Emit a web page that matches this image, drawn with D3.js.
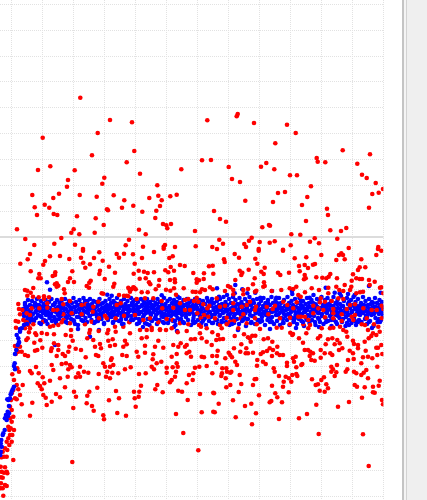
<!DOCTYPE html>
<html><head><meta charset="utf-8">
<script src="https://cdn.jsdelivr.net/npm/d3@7/dist/d3.min.js"></script>
<style>html,body{margin:0;padding:0;background:#fff;overflow:hidden}svg{display:block}</style>
</head><body><div id="chart"></div>
<script>
const xTicks=[10.7,41.7,72.7,103.7,134.7,165.7,196.7,227.7,259,290,321,352,383];
const yTicks=[233,207.3,181.3,155.7,129.7,103.7,77.7,51.7,26,-25.7,-51.7,-77.7,-103.3,-129.3,-155.3,-181.3,-207,-233,-258.7];
const referenceLevel=[0];
const redUpperLeft=[[80.3,139.3],[110,117],[132,114.7],[207.3,116.7],[97.7,104],[42.7,99.3],[134.3,86],[92,81.7],[202,76.7],[211,77],[126.7,74.7],[50.3,70.7],[38,67],[74.7,66.7],[181.3,67.7],[140,63.3],[104.3,59.3],[68,57],[102.3,53.3],[157.3,51.7],[67,50.3],[59,43.3],[32.3,42],[79.7,42],[96.7,40.3],[113.7,41.7],[158.3,41.3],[176.7,42.3],[170.3,40.7],[53.3,39],[149.3,39],[124.3,36.7],[161.7,36.7],[44.7,32.3],[133.3,31.3],[160,31],[34.7,29.7],[49.3,29.3],[122,29.3],[107,27.7],[108,26.7],[156.3,26.3],[142.3,25.3],[214,26],[37,22],[53.7,23],[57.3,22],[77,20.7],[95.7,18.7],[155.3,19],[163,13],[166.3,11.7],[171,13],[103.7,12],[167.3,8.7],[17,7.7],[73.7,7.7],[139,7.3],[195,6],[71.3,4.3],[94.7,4.3],[79.3,2.7],[145.7,2.7],[25.3,-2],[61.3,-1],[129,-2.7],[34.3,-8],[54.3,-6.7],[75,-7.7],[125.7,-8.3],[143,-9.7],[163.7,-9.7],[165,-8],[175,-10],[195.7,-9.3],[212.3,-10],[83,-12],[163.7,-11.7]];
const redUpperRight=[[237.7,123],[236.7,120.7],[254,114],[287,112.3],[295.7,104],[275.3,93.7],[342.7,86.7],[370,82.7],[316.7,79],[317.7,75.3],[325.3,74.7],[357.3,73.3],[266.3,74],[261,70.3],[228.7,70],[274.3,67.7],[362,62.3],[290,61.7],[297,61.7],[366.7,59],[232,58],[240,55],[375.7,54],[311,50.7],[383,48],[285,45],[278,44],[372.3,43],[378.7,44.3],[307.3,40],[245.3,36.3],[273,35],[302,32],[369,29.3],[327,28.3],[328,22],[220,18],[226,15.3],[306,16],[269,12],[270,11.3],[262.3,9.7],[346.3,9],[330.3,6.7],[341,6],[291.3,2.7],[300.3,2.3],[251.7,-0.7],[219.3,-2.7],[249,-3.7],[314.7,-1.3],[337.3,-1.7],[310,-4.7],[223,-6.7],[244.3,-7],[259.7,-5],[269.7,-5.7],[274.7,-4.3],[319,-6.3],[290.7,-8.3],[246,-10],[258.7,-12],[283,-12.7],[348.7,-11],[378.3,-10],[378,-12],[217,-12]];
const redMidLeft=[[30,-17],[20.3,-26.7],[27.7,-22.3],[50,-19.3],[45,-24],[43.3,-27.7],[60,-19],[69.3,-22],[81,-20.7],[83.3,-25.7],[90,-27.3],[85.3,-30.7],[83,-13.7],[99.3,-15.3],[94,-21],[102.7,-23.7],[109,-29.7],[116.7,-17],[124,-16.7],[119,-20.7],[133,-17.3],[142,-21],[134.7,-26.7],[154,-15],[172.7,-19.3],[169.3,-21],[170.7,-30],[180,-28],[184.7,-29],[174,-33.7],[209,-29.3],[212.7,-28.7],[30.7,-34.3],[39.3,-37],[38.3,-41.3],[40.7,-41.3],[55.3,-35.3],[55,-38],[52.7,-39],[72.3,-34.3],[70,-41.3],[68,-45],[74,-45],[100,-33.7],[99.3,-37],[115,-35.7],[133.7,-36.7],[138.7,-33.7],[144,-34.7],[147.7,-36],[154,-35.3],[139.7,-41.7],[165.3,-33.3],[168.3,-35.3],[193.3,-36],[204,-36.3],[213.3,-36.7],[90.7,-43.7],[89.3,-45.7],[104.7,-42],[114.3,-46.7],[113.3,-49.7],[145.7,-41.3],[149,-45.3],[150.3,-47.3],[159.3,-43],[170,-43],[174.7,-42.3],[175,-45.3],[196.7,-42.3],[199,-43.3],[196.7,-45.7],[203.7,-42],[56.7,-46.3],[58.3,-48.7],[55,-47.3],[86.7,-49],[89,-50.7],[64,-52.3],[64.7,-56.3],[25,-53],[27.3,-53.7],[33.3,-51],[30.7,-55.7],[27.3,-58.7],[33,-59.7],[38.7,-60.3],[44,-59.3],[103.3,-56.7],[119,-58],[129.3,-52],[133.3,-50.3],[135.7,-52.3],[128.3,-59.3],[124,-58.7],[141.7,-55.3],[147.7,-55.3],[155.7,-52.3],[158.7,-48.7],[166,-52.7],[170.3,-53.7],[174,-51.3],[183.7,-51.3],[192.7,-54.7],[195.7,-55],[200,-55.3],[202,-52.3],[210,-50.3],[212.7,-52.3],[176,-57.7],[196.7,-60.7]];
const redMidRight=[[234.7,-17],[239,-20.7],[224,-22.3],[224.7,-25],[258.7,-13.7],[283,-13.7],[255.3,-21.7],[257.3,-26.7],[294.7,-21.3],[306.3,-20.3],[321.3,-18],[299,-29],[304.7,-28],[313,-27.7],[315,-27],[308,-31],[299.7,-34.3],[339,-18],[341.3,-16.3],[343,-18],[344.7,-22.3],[336.3,-23],[361.3,-22.3],[376.3,-18],[381.3,-13.7],[359.7,-30.3],[365.3,-30.3],[358,-33],[353,-37.3],[351.7,-43.7],[356.3,-41.3],[362,-42],[359.7,-42],[369,-43],[374.7,-44.7],[264.7,-30.7],[261.3,-34.7],[263.7,-37],[239.7,-33.7],[242.3,-35.7],[241.3,-38],[248.7,-32.7],[254.7,-41.3],[253,-47.3],[264,-45.3],[264.7,-49],[278,-35.7],[280.3,-38],[289,-35.7],[304.7,-38],[305.7,-41.3],[304,-42.3],[316.3,-40.3],[322.3,-40.7],[330.3,-37],[328.7,-39.7],[326.3,-41.3],[337,-41.3],[344.7,-48],[336.3,-49.7],[351.3,-49.7],[369.7,-48],[381.3,-50.3],[228,-49],[230.3,-50.3],[235.3,-43],[248,-52],[256.3,-53.7],[281.3,-53],[289.7,-51.3],[296.3,-49.7],[319,-53],[356.3,-56.3],[363,-54.7]];
const redBandA=[[18.3,-67],[19,-72],[22.3,-73],[20,-77.3],[26.7,-76.3],[30,-78],[31.7,-71.3],[39.3,-71.3],[44,-62],[49,-60.3],[47.3,-66.3],[47.3,-70.7],[53.3,-73],[57.3,-73],[63.3,-67.3],[61.7,-62],[70,-64],[71.7,-76.3],[63.3,-77.3],[81.7,-68],[86,-67.3],[93.3,-69.7],[98.3,-64.7],[92.7,-74.7],[81.7,-77.3],[15.7,-84],[18.3,-84.7],[23.3,-83],[26.7,-85.3],[28.3,-88],[33.3,-87.3],[43.3,-84.7],[50,-89.7],[53.3,-88.7],[58.3,-88],[61.7,-85.3],[63.3,-83],[70,-86.3],[85,-87.3],[91.7,-84.7],[16,-90.7],[25,-91.3],[30,-91.3],[90,-93],[99,-81.3],[56.7,-49.7],[101.7,-56.3],[128.3,-50.7],[131.7,-52],[134.3,-50.7],[130,-54.7],[120.7,-66.3],[116.7,-68],[126.7,-58.7],[136.7,-62],[145,-61.3],[153.3,-61.3],[161.7,-64],[162.3,-71.3],[173.3,-70.7],[180,-66.3],[188.3,-62],[185,-63],[194,-64],[198.3,-64.7],[185,-73],[190,-73],[197.3,-76.3],[105,-78.7],[106.7,-81.3],[115.7,-81.3],[124,-78.7],[129.3,-85.3],[135,-78],[143.3,-83],[150,-81.3],[158.3,-85.3],[166.7,-82],[172.7,-83],[180,-86.3],[188.3,-87.3],[199,-88],[108.3,-93],[115,-89.7],[123.3,-89.7],[151.7,-90.7],[160,-92.3],[171.7,-91.3]];
const redBandB=[[205,-53],[225,-54],[233.3,-53],[233.3,-57.3],[243.3,-53],[255,-54.7],[263.3,-49.7],[271.7,-54],[293.3,-52],[298.3,-58],[216.7,-61.3],[243.3,-57.3],[203.3,-67.3],[209.3,-68.7],[207.3,-71.3],[220,-69.7],[225,-68.7],[233.3,-66.3],[233.3,-73],[241.7,-69.7],[246.7,-68],[250,-64.7],[256,-69.7],[255,-73],[266.7,-69.7],[272.7,-72],[275,-68.7],[283.3,-64.7],[287.3,-68],[293.3,-71.3],[296.7,-65.3],[208.3,-79.7],[204,-78],[201,-81.3],[215,-81.3],[226.7,-80.7],[230,-84.7],[240.7,-81.3],[243.3,-77.3],[255,-81.3],[268.3,-77.3],[280,-81.3],[290,-80.7],[298.3,-79.7],[206.7,-91.3],[201,-89.7],[220,-88],[221.7,-91.3],[234,-84],[226.7,-87.3],[238.3,-91.3],[246.7,-86.3],[256.7,-87.3],[260,-92],[276.7,-90.7],[281.7,-90.7],[290,-87.3],[311.7,-51.3],[328.3,-50.7],[343.3,-54],[339.3,-53],[350,-53],[360,-55.3],[380,-50.7],[383.3,-56.3],[305,-55.3],[300.7,-59.7],[320.7,-61.3],[328.3,-56.3],[338.3,-61.3],[343.3,-62],[325,-64.7],[331.7,-64],[320,-65.3],[313.3,-68.7],[318.3,-71.3],[313.3,-76.3],[323.3,-73],[333.3,-72],[333.3,-76.3],[346.7,-72],[350,-68],[355,-67.3],[363.3,-71.3],[371.7,-73],[376.7,-73],[381.7,-68.7],[383.3,-72],[305,-79.7],[308.3,-83],[301,-79.7],[325,-80.3],[333.3,-81.3],[341.7,-77.3],[351.7,-79.7],[355,-78],[353.3,-83],[366.7,-81.3],[381.7,-81.3],[341.7,-84],[303.3,-87.3],[310,-88],[308.3,-91.3],[321.7,-91.3],[330,-91.3],[333.3,-90.7],[340,-89.7],[343.3,-93],[361.7,-87.3],[365,-88],[374,-87.3],[378.3,-89.7]];
const redLowLeft=[[29,-95.3],[35.3,-96.3],[36.3,-98],[41.7,-96],[47,-97],[54,-97.3],[71,-93],[89.3,-96],[98.7,-94],[107.3,-96.3],[115.7,-94.7],[130,-96.3],[140,-93],[146.7,-93],[151.7,-93],[160,-93],[166,-93],[177.7,-95.3],[186.7,-94],[200,-96.3],[212.3,-95.3],[26.3,-103],[27.7,-101.3],[40.3,-103.3],[34.3,-105.7],[54,-106.3],[72.7,-103.7],[65.7,-98],[71,-99],[87.3,-101.3],[93.3,-103],[108.3,-103.7],[112.7,-102.3],[115,-108],[110,-109],[125,-103.7],[126.7,-107.3],[123.3,-109.7],[146.7,-100.3],[141.7,-101.3],[145,-108.7],[158.3,-103.7],[155,-109.7],[163.3,-110.7],[173.3,-108],[180.7,-106.3],[178.3,-109.7],[186.7,-108],[191,-102.3],[195,-102],[201.7,-101.3],[206.7,-104.7],[211.7,-108],[25,-118],[28,-119],[35,-113.7],[37.3,-113],[42.3,-110.7],[51.7,-111.3],[51,-114],[58.3,-108],[58.3,-113],[56.7,-119],[62.7,-117],[65,-119],[69.3,-109.7],[68.3,-114.7],[75.7,-111.7],[81,-113],[85.7,-120.3],[95,-109.7],[100,-107],[101,-111.3],[96,-118],[98.3,-119],[111.7,-121.3],[111,-123],[122.3,-118],[126.7,-119],[136.7,-114.7],[138.3,-119.7],[145,-115.7],[153.3,-117.3],[152.7,-122.3],[161.3,-124.7],[171.7,-119.7],[176.7,-117],[185,-109.7],[189.3,-114.7],[186.7,-116.3],[191,-119.7],[201.7,-119.7],[204,-120.3],[212.3,-119],[30,-134],[31.7,-136.3],[36,-130],[38.7,-136.3],[42.7,-140.3],[51.7,-128],[53.3,-133],[61.7,-127],[66,-126.3],[70,-128],[71.7,-130.3],[68.3,-132.3],[80,-129.7],[78.3,-136.3],[84,-134.7],[88.3,-135.7],[76,-140.3],[80,-139.7],[67.7,-139.7],[60,-141.3],[50,-143.7],[44.3,-146.3],[98.7,-137],[103.3,-126.3],[105,-129.7],[113.3,-128],[110,-129.7],[107.3,-134.7],[112.3,-135.7],[118.3,-136.3],[106,-139.7],[110,-141.3],[125,-132.3],[130.7,-130.3],[139,-137],[145.7,-136.3],[151.7,-129.7],[154,-132.3],[156.7,-126.3],[166.7,-130.7],[172.7,-130.3],[176.7,-126.3],[177.7,-129.7],[166.7,-135.7],[176,-134.7],[175,-139.7],[171.7,-143],[170,-145.3],[189,-138],[193.3,-136.3],[195,-130.7],[199.3,-129.7],[192.7,-143],[186.7,-146.3],[206.7,-129],[212.3,-136.3],[32.3,-165.7],[37.7,-146.3],[40,-149],[41.7,-152.3],[43.3,-158],[45.7,-160.7],[51.7,-164.7],[46.7,-168],[56,-157],[60,-160.3],[65,-150.3],[74,-154.7],[76,-159.7],[73.3,-171],[87.3,-158.7],[89.3,-154.7],[86.7,-166.3],[92,-169],[93.7,-173.7],[97.3,-150.7],[103.3,-178.3],[104,-182.3],[109,-163.3],[116,-154],[119,-161.3],[117.3,-176],[126,-178.7],[134,-154.7],[139.3,-154.7],[141,-148.7],[134.7,-161.3],[138.7,-159.7],[135.7,-169.7],[155.3,-152.3],[157.3,-148],[162.7,-155.3],[178.3,-153.7],[182,-154.7],[187.7,-163],[176,-177],[200,-157],[201.7,-175.3],[213.3,-155.7],[213.3,-174.7],[183.3,-196],[198.3,-213.3],[72.3,-225],[30,-178.7]];
const redLowRight=[[290.3,-95.7],[293,-97],[306.3,-96.3],[346.3,-94.7],[368,-93],[373,-96.3],[379.7,-94.7],[218,-98],[219.7,-102.3],[216.3,-103],[223,-102],[234.7,-99],[244,-97.3],[248,-100.3],[249.7,-101.3],[252.3,-98.7],[255.3,-98.7],[250.7,-104.7],[241.3,-107.3],[263.7,-102.3],[268,-101.3],[272.3,-104.7],[277.3,-109.7],[292.3,-98],[299,-101.3],[303,-105.7],[318,-101.3],[320.3,-99],[325.7,-107.3],[328,-102.3],[332.3,-101.3],[334.7,-107.3],[337.3,-103],[339.7,-106.3],[339,-113],[342.3,-111.3],[347.3,-99.7],[353,-103.7],[354,-107],[358,-108],[358,-111.3],[364.7,-104.7],[368.7,-101.3],[371.3,-99],[376.3,-98],[381.3,-108],[376.3,-110.7],[378,-110.7],[217.7,-113.7],[217,-119],[216.3,-125.7],[228.7,-115.7],[225.3,-121.3],[230.3,-118],[234,-111.3],[232,-120.3],[235.3,-124.7],[237,-128],[240.3,-114.7],[246.3,-111.3],[245.7,-116.3],[248,-116.3],[253,-115.7],[257.3,-123],[257,-128.7],[260.7,-117],[263,-124.7],[265.7,-127],[263,-115.3],[267,-114],[269.7,-111.3],[273,-113],[272,-119],[277,-116.3],[279.7,-118],[283,-118],[287,-125.7],[287,-129],[293,-121.3],[294,-124.7],[295.7,-119.7],[301.3,-128],[302.3,-127],[296.3,-130.3],[304.7,-113],[308,-113],[310.3,-114.7],[313,-116.3],[309.7,-119],[311.3,-123],[314.7,-123.7],[320.7,-113],[320.7,-120.7],[324.7,-116.3],[330.3,-116.3],[332.3,-118],[348,-123],[349.7,-113.7],[353,-116.3],[353.7,-122],[361.3,-126.3],[363,-120.3],[368,-119.7],[365.7,-113.7],[377.3,-118],[372.3,-121.3],[382.3,-117],[377.3,-129.7],[337,-128],[222,-136.3],[222.3,-131.3],[226.3,-131.3],[221.3,-139],[225.7,-141.3],[227,-134.7],[230.3,-135.7],[231.3,-134.7],[239.7,-138],[230.3,-148],[226.3,-150.3],[241.3,-147],[253,-148],[254.7,-142.3],[256.3,-142],[273.7,-131.3],[274.7,-134.7],[279,-139],[272,-148.7],[283.7,-144.7],[285.7,-139.7],[289,-141.3],[292.3,-138],[296.3,-137],[297.3,-139],[291.3,-144.7],[283,-149.7],[312,-142.3],[321.3,-143],[324,-140.3],[318,-147.3],[315.7,-148],[326.3,-147.3],[328,-151.3],[324.7,-154.7],[319.7,-153.7],[331.3,-129.7],[333,-132.3],[331.3,-134.7],[336.3,-135.3],[334.7,-139],[345.7,-134.7],[347.3,-132.3],[354,-134.7],[356.3,-136.3],[361.3,-138],[366.3,-133],[368,-141.3],[363.7,-135.7],[354.7,-148],[357,-149.7],[364.7,-150.3],[373,-149.7],[378.7,-148.7],[379.7,-143.7],[373,-155.3],[374.7,-155.7],[214,-156.3],[238.7,-155],[259,-158.3],[275.3,-156.3],[277.3,-160.3],[288.7,-155.3],[233,-163.3],[282,-165.3],[271.3,-164],[269.7,-165.3],[218.7,-166.7],[245,-169],[251.3,-166.7],[316.3,-167.7],[338,-169.7],[349,-165],[362,-160.7],[382,-163],[383,-167.3],[214.7,-175.3],[235.7,-180.3],[256,-176.3],[279,-182],[299,-181.3],[307,-177],[252,-187.3],[318.7,-197],[363,-197.3],[368.7,-229]];
const redRamp=[[15,-109],[17.3,-108.7],[20,-109.7],[16.7,-113],[21.7,-114.7],[18.3,-114.7],[15.7,-117],[17.3,-131.3],[19,-134.7],[12.3,-137.3],[14,-143],[16.7,-148],[22.7,-148],[18.3,-152.3],[13.3,-153],[11.7,-156.3],[20,-158],[15,-161.3],[16.7,-162.3],[11,-163],[21.7,-167.3],[11.7,-173],[10,-169.7],[13.3,-179.7],[10,-181.3],[11.7,-184.7],[8.3,-189.7],[9.3,-193],[10.7,-191.3],[14,-193],[12.3,-198],[10,-198],[8.3,-201.3],[6.7,-204.7],[11.7,-204.7],[9.3,-208],[5,-211.3],[7.3,-213],[2.7,-214.7],[6.7,-219.7],[4,-219.7],[1.7,-220.3],[13.3,-223],[0.7,-229.7],[5,-230.3],[1.7,-234.7],[4,-235.7],[6.7,-234.7],[7.3,-236.3],[1,-240.3],[2.7,-240.7],[1,-246.3],[5,-248],[6.7,-249],[2.7,-251.3],[0.7,-251.3],[3.3,-258.7]];
const blueRamp=[[24,-88],[21.7,-91.3],[20,-94.7],[16.7,-98],[18.3,-101.3],[19,-105],[19,-105.7],[17.7,-108],[16.3,-113],[15,-117],[14.7,-126.3],[14,-129],[15,-132.3],[14,-149.7],[12.7,-152.3],[11.7,-154.7],[10.7,-157.3],[8.3,-163],[7.3,-162.3],[10,-161.3],[9,-169],[7.7,-174.7],[6,-178],[5,-181.3],[6.7,-183],[9,-176.3],[8,-179],[4.7,-193],[3.3,-196.3],[2.7,-198],[1.3,-203],[0.7,-206.3],[1.7,-209.7],[0.7,-214.7],[0.3,-218]];
const blueOutliers=[[47,-45.3],[50,-52.7],[107.3,-57.7],[111.7,-58.7],[161.7,-58.3],[177.7,-59.7],[217,-51.3],[235.3,-48],[242.3,-52.3],[255.3,-55.7],[272,-54],[292,-54],[325.7,-50.7],[292.3,-57],[369,-49],[380.7,-55.7],[354.7,-58],[348,-57],[339.7,-56.3],[334.7,-55.7],[309.7,-60.7],[276.3,-60.7],[260.3,-60.7],[234.7,-56.3],[227,-58],[219,-59.7],[247.3,-56.3],[55,-108],[90,-99.7],[99,-93],[78,-92],[143,-90],[174,-90],[200,-88],[238,-93],[270,-92],[296,-91],[319,-90],[349,-88],[372,-91],[177,-94]];
const blueBand=[[23,-72],[24,-79],[25,-66],[25.5,-84],[26,-74],[27,-70],[27.5,-81],[28,-63],[29,-76],[29.5,-85],[30,-68],[31,-73],[31.5,-80],[32,-64],[33,-77],[33.5,-70],[34,-84],[35,-66],[35.5,-75],[36,-81],[37,-62],[37.5,-72],[38,-78],[39,-68],[39.5,-86],[40,-74],[41,-64],[41.5,-80],[42,-70],[43,-76],[43.5,-67],[44,-83],[45,-73],[45.5,-63],[46,-78],[47,-69],[47.5,-87],[48,-75],[49,-65],[49.5,-81],[50,-71],[51,-77],[51.5,-62],[52,-84],[53,-68],[53.5,-74],[54,-80],[55,-66],[55.5,-72],[56,-86],[57,-63],[57.5,-76],[58,-70],[59,-82],[59.5,-66],[60,-74],[61,-79],[61.5,-64],[62,-71],[63,-84],[63.5,-69],[64,-76],[65,-62],[65.5,-80],[66,-72],[67,-67],[67.5,-86],[68,-75],[69,-64],[69.5,-78],[70,-70],[71,-82],[71.5,-73],[72,-66],[73,-77],[73.5,-61],[74,-84],[75,-70],[75.5,-74],[76,-65],[77,-80],[77.5,-68],[78,-88],[79,-72],[79.5,-63],[80,-76],[81,-67],[81.5,-83],[82,-71],[83,-78],[83.5,-61],[84,-74],[85,-66],[85.5,-81],[86,-70],[87,-85],[87.5,-64],[88,-76],[89,-69],[89.5,-79],[90,-62],[91,-73],[91.5,-83],[92,-67],[93,-77],[93.5,-64],[94,-86],[95,-71],[95.5,-75],[96,-65],[97,-80],[97.5,-69],[98,-84],[99,-73],[99.5,-62],[100,-77],[101,-67],[101.5,-82],[102,-71],[103,-76],[104,-86],[105,-70],[105.5,-64],[106,-74],[107,-68],[108,-83],[109,-72],[109.5,-62],[110,-77],[111,-66],[111.5,-80],[112,-71],[113,-86],[113.5,-64],[114,-75],[115,-69],[115.5,-83],[116,-73],[117,-61],[117.5,-78],[118,-67],[119,-84],[119.5,-71],[120,-76],[121,-64],[121.5,-80],[122,-69],[123,-74],[123.5,-87],[124,-62],[125,-77],[125.5,-67],[126,-82],[127,-72],[127.5,-64],[128,-76],[129,-69],[129.5,-85],[130,-73],[131,-61],[131.5,-79],[132,-66],[133,-83],[133.5,-71],[134,-75],[135,-63],[135.5,-81],[136,-68],[137,-87],[137.5,-73],[138,-65],[139,-77],[139.5,-70],[140,-84],[141,-62],[141.5,-75],[142,-68],[143,-80],[143.5,-64],[144,-73],[145,-86],[145.5,-70],[146,-76],[147,-62],[147.5,-82],[148,-67],[149,-74],[149.5,-88],[150,-65],[151,-78],[151.5,-71],[152,-84],[153,-63],[153.5,-75],[154,-69],[155,-81],[155.5,-66],[156,-73],[157,-87],[157.5,-62],[158,-76],[159,-70],[159.5,-83],[160,-65],[161,-74],[161.5,-79],[162,-68],[163,-85],[163.5,-72],[164,-61],[165,-77],[165.5,-67],[166,-81],[167,-71],[167.5,-64],[168,-86],[169,-75],[169.5,-69],[170,-62],[171,-79],[171.5,-73],[172,-66],[173,-84],[173.5,-77],[174,-63],[175,-70],[175.5,-88],[176,-74],[177,-65],[177.5,-81],[178,-68],[179,-76],[179.5,-61],[180,-84],[181,-72],[181.5,-66],[182,-78],[183,-70],[183.5,-63],[184,-86],[185,-75],[185.5,-68],[186,-80],[187,-62],[187.5,-73],[188,-83],[189,-66],[189.5,-77],[190,-70],[191,-88],[191.5,-64],[192,-75],[193,-68],[193.5,-81],[194,-72],[195,-62],[195.5,-85],[196,-77],[197,-66],[197.5,-71],[198,-83],[199,-74],[199.5,-63],[200,-79],[201,-68],[201.5,-86],[202,-72],[203,-64],[203.5,-76],[204,-82],[205,-67],[205.5,-73],[206,-88],[207,-61],[207.5,-78],[208,-70],[209,-84],[209.5,-65],[210,-75],[211,-80],[211.5,-69],[212,-62],[213,-86],[213.5,-73],[214,-66],[215,-77],[215.5,-83],[216,-70],[217,-64],[217.5,-75],[218,-87],[219,-68],[219.5,-79],[220,-62],[221,-73],[221.5,-84],[222,-67],[223,-76],[223.5,-60],[224,-81],[225,-71],[225.5,-65],[226,-85],[227,-74],[227.5,-68],[228,-78],[229,-62],[229.5,-88],[230,-72],[231,-66],[231.5,-82],[232,-75],[233,-60],[233.5,-69],[234,-86],[235,-77],[235.5,-63],[236,-72],[237,-82],[237.5,-67],[238,-75],[239,-87],[239.5,-61],[240,-70],[241,-78],[241.5,-65],[242,-84],[243,-73],[243.5,-68],[244,-80],[245,-62],[245.5,-76],[246,-89],[247,-71],[247.5,-65],[248,-82],[249,-74],[249.5,-60],[250,-78],[251,-68],[251.5,-85],[252,-72],[253,-63],[253.5,-79],[254,-66],[255,-87],[255.5,-75],[256,-70],[257,-62],[257.5,-83],[258,-73],[259,-67],[259.5,-77],[260,-85],[261,-64],[261.5,-72],[262,-80],[263,-69],[263.5,-61],[264,-75],[265,-88],[265.5,-66],[266,-78],[267,-71],[267.5,-83],[268,-63],[269,-76],[269.5,-68],[270,-85],[271,-73],[271.5,-60],[272,-80],[273,-66],[273.5,-74],[274,-87],[275,-70],[275.5,-63],[276,-78],[277,-84],[277.5,-68],[278,-72],[279,-61],[279.5,-76],[280,-88],[281,-66],[281.5,-81],[282,-71],[283,-75],[283.5,-86],[284,-63],[285,-69],[285.5,-79],[286,-73],[287,-83],[287.5,-60],[288,-77],[289,-66],[289.5,-88],[290,-71],[291,-75],[291.5,-64],[292,-81],[293,-68],[293.5,-85],[294,-73],[295,-62],[295.5,-78],[296,-70],[297,-87],[297.5,-66],[298,-75],[299,-82],[299.5,-61],[300,-72],[301,-68],[301.5,-84],[302,-77],[303,-64],[303.5,-71],[304,-89],[305,-75],[305.5,-67],[306,-81],[307,-61],[307.5,-73],[308,-78],[309,-66],[309.5,-86],[310,-70],[311,-75],[311.5,-63],[312,-83],[313,-72],[313.5,-58],[314,-79],[315,-67],[315.5,-88],[316,-74],[317,-62],[317.5,-70],[318,-81],[319,-76],[319.5,-65],[320,-85],[321,-71],[321.5,-60],[322,-77],[323,-68],[323.5,-87],[324,-73],[325,-63],[325.5,-81],[326,-70],[327,-76],[327.5,-61],[328,-84],[329,-67],[329.5,-72],[330,-79],[331,-64],[331.5,-89],[332,-75],[333,-69],[333.5,-60],[334,-83],[335,-73],[335.5,-66],[336,-78],[337,-87],[337.5,-63],[338,-71],[339,-76],[339.5,-81],[340,-67],[341,-59],[341.5,-74],[342,-85],[343,-69],[343.5,-77],[344,-64],[345,-72],[345.5,-89],[346,-80],[347,-61],[347.5,-75],[348,-67],[349,-83],[349.5,-71],[350,-78],[351,-63],[351.5,-86],[352,-74],[353,-68],[353.5,-60],[354,-81],[355,-72],[355.5,-65],[356,-88],[357,-76],[357.5,-69],[358,-62],[359,-83],[359.5,-73],[360,-78],[361,-66],[361.5,-85],[362,-71],[363,-60],[363.5,-76],[364,-68],[365,-82],[365.5,-64],[366,-74],[367,-87],[367.5,-70],[368,-77],[369,-62],[369.5,-72],[370,-84],[371,-67],[371.5,-78],[372,-65],[373,-75],[373.5,-89],[374,-70],[375,-61],[375.5,-81],[376,-74],[377,-66],[377.5,-85],[378,-71],[379,-77],[379.5,-63],[380,-68],[381,-83],[381.5,-73],[382,-65],[383,-79],[383,-70]];
const blueCore=[[24,-76],[26,-71],[28,-80],[30,-73],[32,-77],[34,-69],[36,-74],[38,-72],[40,-79],[42,-74],[44,-69],[46,-76],[48,-71],[50,-80],[52,-73],[54,-68],[56,-75],[58,-78],[60,-70],[62,-76],[64,-72],[66,-79],[68,-68],[70,-74],[72,-77],[74,-70],[76,-75],[78,-68],[80,-72],[82,-78],[84,-69],[86,-75],[88,-72],[90,-79],[92,-70],[94,-74],[96,-77],[98,-68],[100,-73],[102,-79],[104,-72],[106,-70],[108,-76],[110,-69],[112,-75],[114,-78],[116,-71],[118,-73],[120,-68],[122,-77],[124,-72],[126,-70],[128,-79],[130,-74],[132,-68],[134,-72],[136,-77],[138,-71],[140,-75],[142,-69],[144,-78],[146,-72],[148,-70],[150,-76],[152,-68],[154,-73],[156,-78],[158,-71],[160,-75],[162,-76],[164,-69],[166,-73],[168,-78],[170,-71],[172,-75],[174,-68],[176,-78],[178,-72],[180,-70],[182,-74],[184,-68],[186,-77],[188,-70],[190,-75],[192,-71],[194,-78],[196,-69],[198,-73],[200,-75],[202,-70],[204,-77],[206,-72],[208,-74],[210,-68],[212,-78],[214,-71],[216,-75],[218,-73],[220,-78],[222,-70],[224,-75],[226,-69],[228,-73],[230,-77],[232,-71],[234,-79],[236,-68],[238,-73],[240,-75],[242,-70],[244,-77],[246,-72],[248,-68],[250,-74],[252,-79],[254,-71],[256,-76],[258,-69],[260,-73],[262,-77],[264,-70],[266,-74],[268,-79],[270,-68],[272,-75],[274,-71],[276,-74],[278,-78],[280,-70],[282,-73],[284,-77],[286,-69],[288,-72],[290,-79],[292,-74],[294,-70],[296,-76],[298,-71],[300,-77],[302,-69],[304,-75],[306,-72],[308,-70],[310,-79],[312,-74],[314,-71],[316,-68],[318,-76],[320,-72],[322,-79],[324,-70],[326,-75],[328,-73],[330,-68],[332,-77],[334,-71],[336,-74],[338,-79],[340,-72],[342,-69],[344,-76],[346,-73],[348,-78],[350,-71],[352,-75],[354,-69],[356,-72],[358,-77],[360,-70],[362,-75],[364,-72],[366,-79],[368,-68],[370,-74],[372,-71],[374,-77],[376,-70],[378,-75],[380,-72],[382,-76],[25,-68],[31,-83],[37,-68],[43,-84],[49,-78],[55,-82],[61,-69],[67,-81],[73,-83],[79,-80],[85,-64],[91,-68],[97,-84],[103,-66],[109,-80],[115,-66],[121,-83],[127,-79],[133,-65],[139,-82],[145,-66],[151,-83],[157,-67],[163,-80],[169,-83],[175,-65],[181,-82],[187,-67],[193,-84],[199,-66],[205,-81],[211,-65],[217,-83],[223,-68],[229,-80],[235,-83],[241,-67],[247,-82],[253,-66],[259,-83],[265,-68],[271,-81],[277,-66],[283,-82],[289,-67],[295,-81],[301,-64],[307,-83],[313,-66],[319,-82],[325,-67],[331,-83],[337,-67],[343,-82],[349,-65],[355,-84],[361,-67],[367,-80],[373,-66],[379,-82]];
const blueOverRed=[[20,-92],[27,-87],[33,-83],[41,-87],[46,-84],[56,-84],[66,-85],[75,-87],[83,-84],[95,-85],[104,-87],[113,-85],[122,-87],[131,-83],[139,-86],[147,-87],[156,-82],[164,-86],[175,-84],[183,-85],[194,-86],[203,-84],[212,-86],[222,-85],[232,-87],[243,-83],[251,-86],[262,-84],[272,-85],[283,-86],[294,-84],[303,-85],[315,-85],[326,-85],[336,-85],[347,-86],[358,-85],[369,-85],[380,-85],[60,-76],[118,-74],[178,-75],[238,-76],[299,-74],[359,-74],[35,-68],[88,-68],[148,-66],[208,-64],[268,-66],[328,-68]];
const chromePanels=[{x:402,w:2,c:"#c4c4c4"},{x:404,w:2,c:"#f4f4f4"},{x:406,w:1,c:"#d2d2d2"},{x:407,w:20,c:"#efefef"}];

const W=427,H=500,plotW=383.4;
const x=d3.scaleLinear().domain([0,383.4]).range([0,plotW]);
const y=d3.scaleLinear().domain([237,-263]).range([0,H]);
const svg=d3.select("#chart").append("svg").attr("width",W).attr("height",H);
svg.append("rect").attr("width",W).attr("height",H).attr("fill","#fff");
svg.append("defs").append("clipPath").attr("id","plot").append("rect").attr("width",plotW).attr("height",H);
const grid=svg.append("g").attr("fill","none").attr("stroke","#e2e2e2").attr("stroke-dasharray","1 1");
grid.selectAll(".gx").data(xTicks).join("line").attr("x1",d=>Math.round(x(d))+.5).attr("x2",d=>Math.round(x(d))+.5).attr("y1",0).attr("y2",H);
grid.selectAll(".gy").data(yTicks).join("line").attr("y1",d=>Math.round(y(d))+.5).attr("y2",d=>Math.round(y(d))+.5).attr("x1",0).attr("x2",plotW);
svg.selectAll(".ref").data(referenceLevel).join("line").attr("x1",0).attr("x2",plotW).attr("y1",d=>y(d)).attr("y2",d=>y(d)).attr("stroke","#dcdcdc").attr("stroke-width",2);
const marks=svg.append("g").attr("clip-path","url(#plot)");
function dots(data,color){marks.append("g").attr("fill",color).selectAll("circle").data(data).join("circle").attr("cx",d=>x(d[0])).attr("cy",d=>y(d[1])).attr("r",2.3);}
dots(blueBand,"#0000ff");dots(blueCore,"#0000ff");dots(blueOutliers,"#0000ff");
const red=[redUpperLeft,redUpperRight,redMidLeft,redMidRight,redBandA,redBandB,redLowLeft,redLowRight,redRamp];
red.forEach(s=>dots(s,"#ff0000"));
dots(blueOverRed,"#0000ff");dots(blueRamp,"#0000ff");
svg.selectAll(".chrome").data(chromePanels).join("rect").attr("x",d=>d.x).attr("width",d=>d.w).attr("y",0).attr("height",H).attr("fill",d=>d.c);
</script></body></html>
